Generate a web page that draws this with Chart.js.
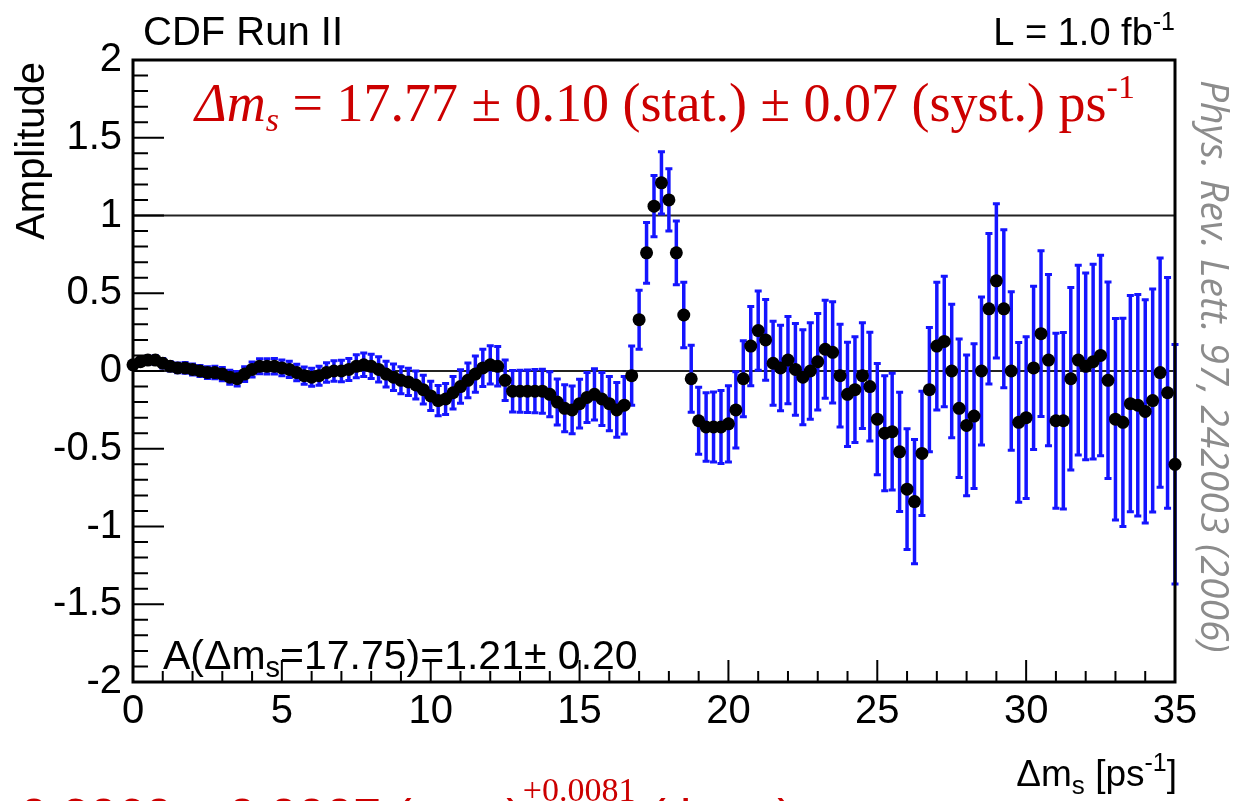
<!DOCTYPE html>
<html>
<head>
<meta charset="utf-8">
<script src="https://cdn.jsdelivr.net/npm/chart.js@4.4.1/dist/chart.umd.min.js"></script>
<style>
  html, body { margin: 0; padding: 0; background: #fff; }
  #c { display: block; }
</style>
</head>
<body>
<canvas id="c" width="1233" height="801"></canvas>
<script>
// amplitude scan: dm_s points [ps^-1], fitted amplitude and its error
const dms = [
  0, 0.25, 0.5, 0.75,   1, 1.25, 1.5, 1.75,   2, 2.25, 2.5, 2.75,   3, 3.25, 3.5, 3.75,
  4, 4.25, 4.5, 4.75,   5, 5.25, 5.5, 5.75,   6, 6.25, 6.5, 6.75,   7, 7.25, 7.5, 7.75,
  8, 8.25, 8.5, 8.75,   9, 9.25, 9.5, 9.75,   10, 10.25, 10.5, 10.75, 11, 11.25, 11.5, 11.75,
  12, 12.25, 12.5, 12.75, 13, 13.25, 13.5, 13.75, 14, 14.25, 14.5, 14.75, 15, 15.25, 15.5, 15.75,
  16, 16.25, 16.5, 16.75, 17, 17.25, 17.5, 17.75, 18, 18.25, 18.5, 18.75, 19, 19.25, 19.5, 19.75,
  20, 20.25, 20.5, 20.75, 21, 21.25, 21.5, 21.75, 22, 22.25, 22.5, 22.75, 23, 23.25, 23.5, 23.75,
  24, 24.25, 24.5, 24.75, 25, 25.25, 25.5, 25.75, 26, 26.25, 26.5, 26.75, 27, 27.25, 27.5, 27.75,
  28, 28.25, 28.5, 28.75, 29, 29.25, 29.5, 29.75, 30, 30.25, 30.5, 30.75, 31, 31.25, 31.5, 31.75,
  32, 32.25, 32.5, 32.75, 33, 33.25, 33.5, 33.75, 34, 34.25, 34.5, 34.75, 35
];
const amplitude = [
  0.04, 0.06, 0.07, 0.07,   0.05, 0.03, 0.02, 0.02,   0.01, 0.00, -0.01, -0.01,  -0.02, -0.04, -0.05, -0.02,
  0.01, 0.03, 0.03, 0.03,   0.02, 0.01, -0.01, -0.03,  -0.04, -0.03, -0.01, 0.00,  0.00, 0.01, 0.03, 0.04,
  0.03, 0.01, -0.02, -0.04, -0.06, -0.07, -0.09, -0.12, -0.16, -0.19, -0.18, -0.14, -0.10, -0.06, -0.02, 0.02,
  0.04, 0.03, -0.06, -0.13, -0.13, -0.13, -0.13, -0.13, -0.15, -0.20, -0.24, -0.25, -0.21, -0.17, -0.15, -0.18,
  -0.21, -0.25, -0.22, -0.03, 0.33, 0.76, 1.06, 1.21,  1.10, 0.76, 0.36, -0.05,  -0.32, -0.36, -0.36, -0.36,
  -0.34, -0.25, -0.05, 0.16, 0.26, 0.20, 0.05, 0.02,   0.07, 0.01, -0.04, 0.00,   0.06, 0.14, 0.12, -0.03,
  -0.15, -0.12, -0.03, -0.10, -0.31, -0.40, -0.39, -0.52, -0.76, -0.84, -0.53, -0.12, 0.16, 0.19, 0.00, -0.24,
  -0.35, -0.29, 0.00, 0.40, 0.58, 0.40, 0.00, -0.33,  -0.30, 0.02, 0.24, 0.07,   -0.32, -0.32, -0.05, 0.07,
  0.03, 0.06, 0.10, -0.06,  -0.31, -0.33, -0.21, -0.22, -0.26, -0.19, -0.01, -0.14, -0.60
];
const ampErr = [
  0.025, 0.025, 0.025, 0.028, 0.030, 0.030, 0.032, 0.034, 0.035, 0.036, 0.038, 0.040, 0.042, 0.045, 0.046, 0.047,
  0.048, 0.048, 0.049, 0.050, 0.051, 0.052, 0.053, 0.055, 0.058, 0.061, 0.063, 0.066, 0.069, 0.071, 0.074, 0.076,
  0.078, 0.081, 0.083, 0.085, 0.087, 0.088, 0.090, 0.092, 0.094, 0.097, 0.100, 0.104, 0.108, 0.112, 0.116, 0.120,
  0.123, 0.127, 0.130, 0.133, 0.135, 0.137, 0.139, 0.142, 0.145, 0.148, 0.151, 0.154, 0.157, 0.161, 0.165, 0.170,
  0.174, 0.176, 0.185, 0.190, 0.190, 0.195, 0.197, 0.200, 0.200, 0.205, 0.210, 0.215, 0.215, 0.220, 0.225, 0.235,
  0.245, 0.245, 0.245, 0.255, 0.255, 0.260, 0.270, 0.275, 0.280, 0.295, 0.305, 0.310, 0.310, 0.315, 0.325, 0.330,
  0.335, 0.340, 0.340, 0.350, 0.358, 0.370, 0.376, 0.383, 0.388, 0.400, 0.400, 0.400, 0.410, 0.420, 0.430, 0.445,
  0.453, 0.466, 0.476, 0.484, 0.496, 0.508, 0.510, 0.514, 0.520, 0.525, 0.533, 0.550, 0.563, 0.568, 0.587, 0.610,
  0.600, 0.626, 0.645, 0.632, 0.648, 0.670, 0.695, 0.712, 0.718, 0.717, 0.737, 0.742, 0.770
];
const xTickValues = [0, 5, 10, 15, 20, 25, 30, 35];
const yTickValues = [-2, -1.5, -1, -0.5, 0, 0.5, 1, 1.5, 2];
const refLines = [0, 1];

const SANS = '"Liberation Sans", Arial, sans-serif';
const SERIF = '"Liberation Serif", "Times New Roman", serif';
const RED = '#cc0000';

// draw a run of text pieces (sub/superscripts via dy), left or right aligned
function rich(ctx, x, y, parts, align) {
  let w = 0;
  parts.forEach(p => { ctx.font = p.f; w += ctx.measureText(p.t).width; });
  let cx = align === 'right' ? x - w : x;
  ctx.textAlign = 'left';
  ctx.textBaseline = 'alphabetic';
  parts.forEach(p => {
    ctx.font = p.f;
    ctx.fillText(p.t, cx, y + (p.dy || 0));
    cx += ctx.measureText(p.t).width;
  });
}

const errorBars = {
  id: 'errorBars',
  beforeDatasetsDraw(chart) {
    const { ctx, scales: { x, y } } = chart;
    ctx.save();
    ctx.strokeStyle = '#222';
    ctx.lineWidth = 2;
    refLines.forEach(v => {
      const py = y.getPixelForValue(v);
      ctx.beginPath(); ctx.moveTo(x.left, py); ctx.lineTo(x.right, py); ctx.stroke();
    });
    ctx.strokeStyle = '#1414ff';
    dms.forEach((xv, i) => {
      const px = x.getPixelForValue(xv);
      const top = y.getPixelForValue(Math.min(amplitude[i] + ampErr[i], 2));
      const bot = y.getPixelForValue(Math.max(amplitude[i] - ampErr[i], -2));
      ctx.lineWidth = 3.5;
      ctx.beginPath(); ctx.moveTo(px, top); ctx.lineTo(px, bot); ctx.stroke();
      ctx.lineWidth = 3;
      ctx.beginPath();
      ctx.moveTo(px - 3.5, top); ctx.lineTo(px + 3.5, top);
      ctx.moveTo(px - 3.5, bot); ctx.lineTo(px + 3.5, bot);
      ctx.stroke();
    });
    ctx.restore();
  }
};

const frame = {
  id: 'frame',
  afterDatasetsDraw(chart) {
    const { ctx, scales: { x, y } } = chart;
    ctx.save();
    ctx.strokeStyle = '#000';
    ctx.lineWidth = 2;
    // inward ticks, y: major 0.5 / minor 0.1, x: major 5 / minor 1
    ctx.beginPath();
    for (let k = -20; k <= 20; k++) {
      const py = y.getPixelForValue(k / 10);
      const len = k % 5 === 0 ? 31 : 15;
      ctx.moveTo(x.left, py); ctx.lineTo(x.left + len, py);
    }
    for (let k = 0; k <= 35; k++) {
      const px = x.getPixelForValue(k);
      const len = k % 5 === 0 ? 22 : 11;
      ctx.moveTo(px, y.bottom); ctx.lineTo(px, y.bottom - len);
    }
    ctx.stroke();
    ctx.lineWidth = 3;
    ctx.strokeRect(x.left, y.top, x.right - x.left, y.bottom - y.top);
    ctx.restore();
  },
  afterDraw(chart) {
    const ctx = chart.ctx;
    ctx.save();
    ctx.fillStyle = '#000';
    rich(ctx, 143, 45, [{ t: 'CDF Run II', f: '40px ' + SANS }]);
    rich(ctx, 1175, 45, [
      { t: 'L = 1.0 fb', f: '38px ' + SANS },
      { t: '-1', f: '25px ' + SANS, dy: -15 }
    ], 'right');
    rich(ctx, 163, 669, [
      { t: 'A(\u0394m', f: '41px ' + SANS },
      { t: 's', f: '29px ' + SANS, dy: 8 },
      { t: '=17.75)=1.21\u00b1 0.20', f: '41px ' + SANS }
    ]);
    rich(ctx, 1177, 786, [
      { t: '\u0394m', f: '37px ' + SANS },
      { t: 's', f: '26px ' + SANS, dy: 8 },
      { t: ' [ps', f: '37px ' + SANS },
      { t: '-1', f: '25px ' + SANS, dy: -15 },
      { t: ']', f: '37px ' + SANS }
    ], 'right');

    // axis title, right-aligned to the top of the frame
    ctx.save();
    ctx.translate(44, 62);
    ctx.rotate(-Math.PI / 2);
    ctx.font = '40px ' + SANS;
    ctx.textAlign = 'right';
    ctx.fillText('Amplitude', 0, 0);
    ctx.restore();

    // measured value
    ctx.fillStyle = RED;
    rich(ctx, 195, 121, [
      { t: '\u0394m', f: 'italic 54px ' + SERIF },
      { t: 's', f: 'italic 34px ' + SERIF, dy: 10 },
      { t: ' = 17.77 \u00b1 0.10 (stat.) \u00b1 0.07 (syst.) ps', f: '54px ' + SERIF },
      { t: '-1', f: '34px ' + SERIF, dy: -23 }
    ]);
    rich(ctx, 20, 834, [
      { t: '0.2060 \u00b1 0.0007 (exp.)', f: '50px ' + SANS },
      { t: '+0.0081', f: '34px ' + SERIF, dy: -33 },
      { t: ' (theo.)', f: '50px ' + SANS }
    ]);

    // journal reference along the right edge
    ctx.save();
    ctx.translate(1201, 80);
    ctx.rotate(Math.PI / 2);
    ctx.fillStyle = '#8c8c8c';
    ctx.font = 'italic 39px "Open Sans", ' + SANS;
    ctx.textAlign = 'left';
    ctx.fillText('Phys. Rev. Lett. 97, 242003 (2006)', 0, 0);
    ctx.restore();
    ctx.restore();
  }
};

new Chart(document.getElementById('c'), {
  type: 'scatter',
  data: {
    datasets: [{
      data: dms.map((v, i) => ({ x: v, y: amplitude[i] })),
      pointRadius: 6.5,
      pointBackgroundColor: '#000',
      pointBorderWidth: 0,
      showLine: false,
      clip: false
    }]
  },
  options: {
    responsive: false,
    devicePixelRatio: 1,
    animation: false,
    events: [],
    layout: { padding: { top: 60, right: 58, left: 0, bottom: 0 } },
    plugins: { legend: { display: false }, tooltip: { enabled: false } },
    scales: {
      x: {
        type: 'linear', min: 0, max: 35,
        grid: { display: false, drawTicks: false },
        border: { display: false },
        afterBuildTicks: s => { s.ticks = xTickValues.map(v => ({ value: v })); },
        afterFit: s => { s.height = 119; },
        ticks: { color: '#000', font: { family: SANS, size: 40 }, padding: 6, maxRotation: 0, autoSkip: false,
                 callback: v => String(v) }
      },
      y: {
        min: -2, max: 2,
        grid: { display: false, drawTicks: false },
        border: { display: false },
        afterBuildTicks: s => { s.ticks = yTickValues.map(v => ({ value: v })); },
        afterFit: s => { s.width = 133; },
        ticks: { color: '#000', font: { family: SANS, size: 40 }, padding: 11, autoSkip: false,
                 callback: v => String(v) }
      }
    }
  },
  plugins: [errorBars, frame]
});
</script>
</body>
</html>
